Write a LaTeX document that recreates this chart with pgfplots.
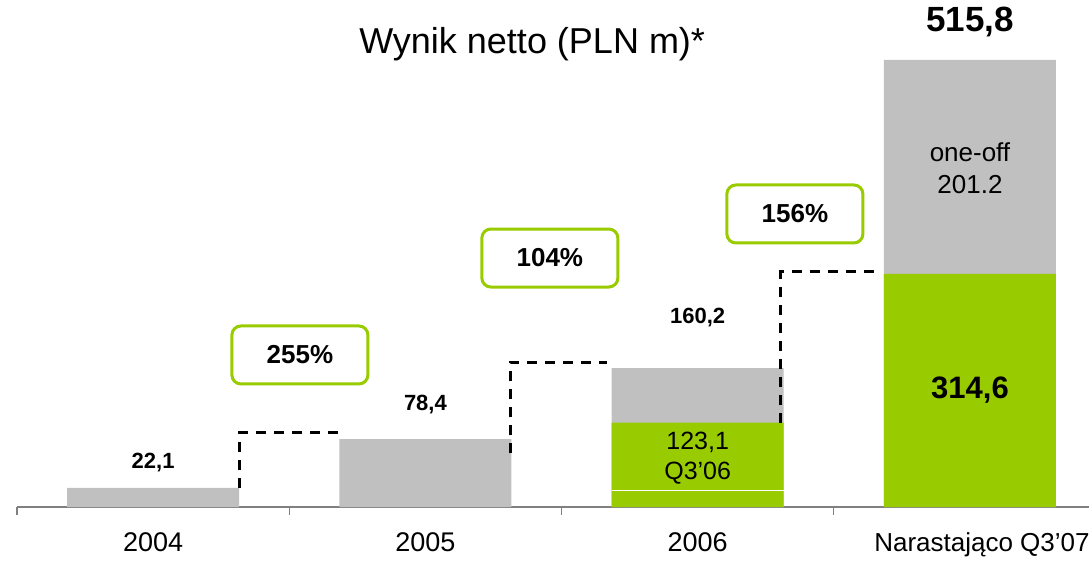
\documentclass[border=0pt]{standalone}
\usepackage{fontspec}
\setmainfont{Liberation Sans}
\usepackage{pgfplots}
\pgfplotsset{compat=1.18}
\definecolor{barGray}{HTML}{C0C0C0}
\definecolor{barGreen}{HTML}{99CC00}
\definecolor{axGray}{HTML}{808080}
\begin{document}
\begin{tikzpicture}
\useasboundingbox (-17bp,-58bp) rectangle (1072bp,507bp);
\begin{axis}[
  at={(0,0)}, anchor=south west,
  scale only axis, width=1072bp, height=507bp,
  xmin=-0.5, xmax=3.437, ymin=0, ymax=585,
  axis x line*=bottom, axis y line=none,
  x axis line style={draw=axGray, line width=1.5bp, -},
  xtick={0,1,2,3},
  xticklabels={2004,2005,2006,{\hspace*{24bp}\fontsize{26bp}{30bp}\selectfont Narastająco Q3\symbol{39}07}},
  major tick length=0pt,
  minor xtick={-0.5,0.5,1.5,2.5},
  minor tick length=8bp,
  tick align=outside,
  minor tick style={draw=axGray, line width=1.2bp},
  xticklabel style={font=\fontsize{27bp}{32bp}\selectfont, yshift=-22bp},
  clip=false,
]
% totals (gray) then green part drawn over it
\addplot[ybar, bar width=172bp, bar shift=0pt, fill=barGray, draw=none] coordinates {(0,22.1) (1,78.4) (2,160.2) (3,515.8)};
\addplot[ybar, bar width=172bp, bar shift=0pt, fill=barGreen, draw=none] coordinates {(2,97.3) (3,268.9)};
\addplot[sharp plot, white, line width=1bp, forget plot] coordinates {(1.684,18.5) (2.316,18.5)};
% dashed step connectors
\addplot[sharp plot, black, line width=3bp, dash pattern=on 10bp off 8bp, forget plot] coordinates {(0.316,22.1) (0.316,85.4) (0.684,85.4)};
\addplot[sharp plot, black, line width=3bp, dash pattern=on 10bp off 8bp, forget plot] coordinates {(1.313,62) (1.313,167.3) (1.667,167.3)};
\addplot[sharp plot, black, line width=3bp, dash pattern=on 10bp off 8bp, forget plot] coordinates {(2.305,97.3) (2.305,271.2) (2.662,271.2)};
% labels
\node[font=\fontsize{22bp}{26bp}\selectfont\bfseries] at (axis cs:0,50.8) {22,1};
\node[font=\fontsize{22bp}{26bp}\selectfont\bfseries] at (axis cs:1,117.7) {78,4};
\node[font=\fontsize{22bp}{26bp}\selectfont\bfseries] at (axis cs:2,219.2) {160,2};
\node[font=\fontsize{35bp}{40bp}\selectfont\bfseries] at (axis cs:3,559.7) {515,8};
\node[font=\fontsize{31bp}{36bp}\selectfont\bfseries] at (axis cs:3,135) {314,6};
\node[font=\fontsize{26bp}{32bp}\selectfont, align=center] at (axis cs:3,391.2) {one-off\\201.2};
\node[font=\fontsize{25bp}{30bp}\selectfont, align=center] at (axis cs:2,56.5) {123,1\\Q3’06};
\node[font=\fontsize{36bp}{42bp}\selectfont, anchor=base] at (axis cs:1.392,523) {Wynik netto (PLN m)*};
% percentage boxes
\tikzset{pbox/.style={draw=barGreen, line width=3bp, rounded corners=9bp, fill=white,
  minimum width=136bp, minimum height=58bp, font=\fontsize{26bp}{30bp}\selectfont\bfseries}}
\node[pbox] at (axis cs:0.539,175.4) {255\%};
\node[pbox] at (axis cs:1.457,287.3) {104\%};
\node[pbox] at (axis cs:2.357,338.1) {156\%};
\end{axis}
\end{tikzpicture}
\end{document}
